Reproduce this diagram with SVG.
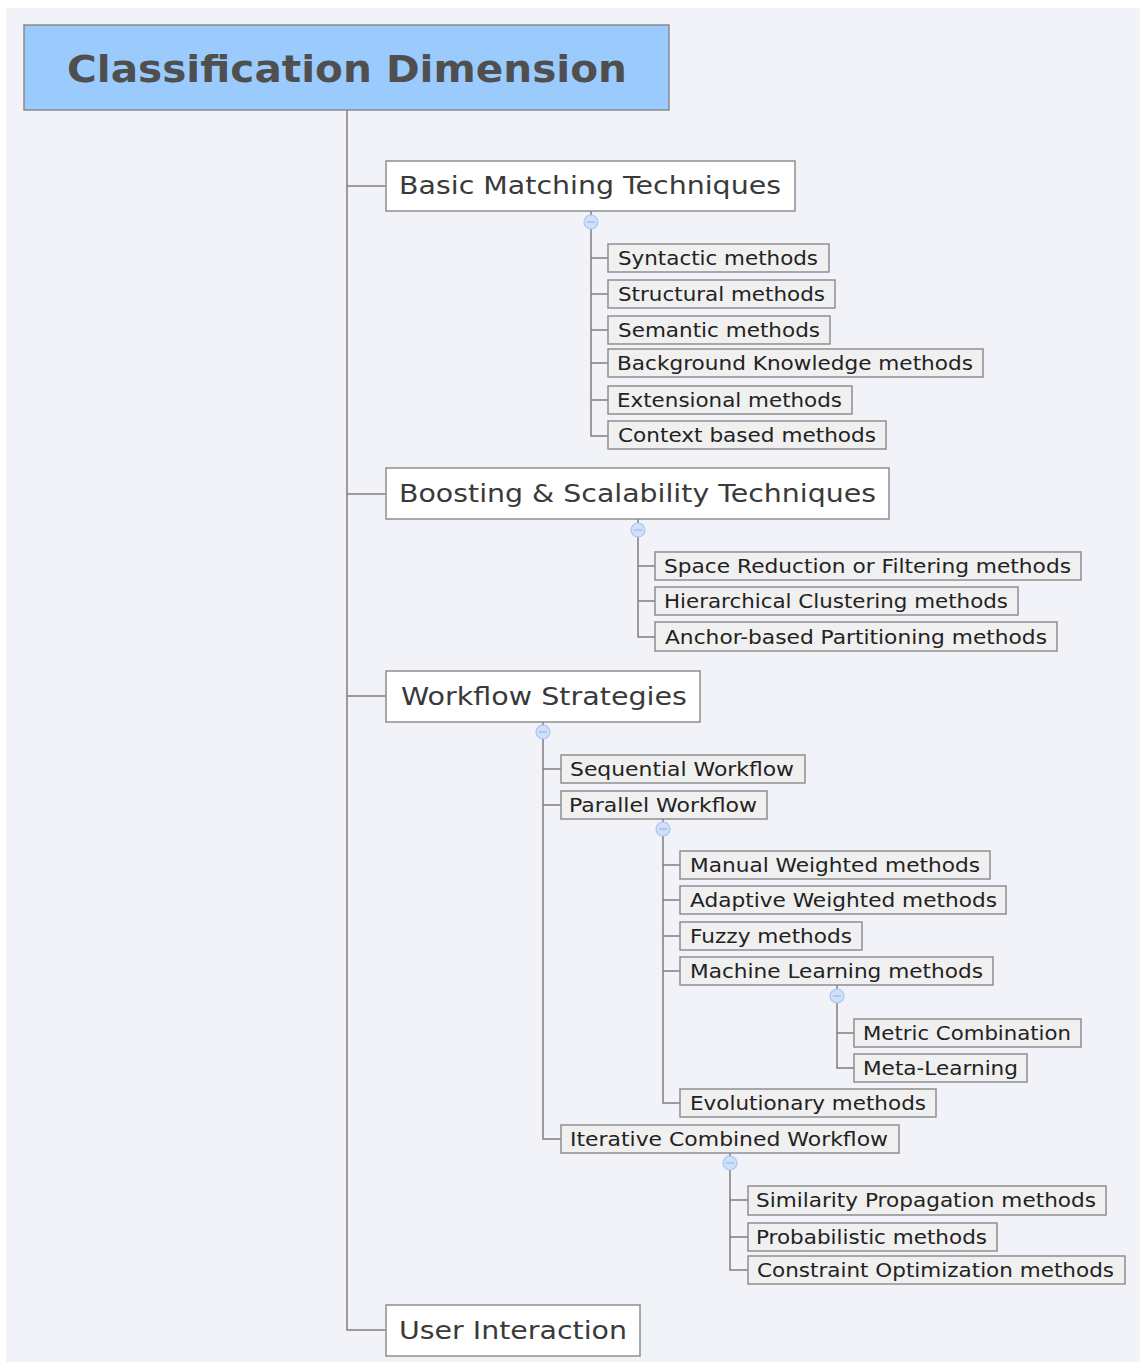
<svg xmlns="http://www.w3.org/2000/svg" width="1140" height="1362" viewBox="0 0 1140 1362">
<style>
.ln{fill:none;stroke:#7f7f7f;stroke-width:1.5}
.root{fill:#9bcafd;stroke:#8a8a8a;stroke-width:1.5}
.l1{fill:#ffffff;stroke:#8f8f8f;stroke-width:1.5}
.l2{fill:#f0f0f0;stroke:#8f8f8f;stroke-width:1.5}
.tr{font-family:"DejaVu Sans",Verdana,sans-serif;font-weight:bold;font-size:38px;fill:#4f4f4f}
.t1{font-family:"DejaVu Sans",Verdana,sans-serif;font-size:25px;fill:#3a3a3a}
.t2{font-family:"DejaVu Sans",Verdana,sans-serif;font-size:19px;fill:#222}
.cc{fill:#cfe0fb;stroke:#a9c5f2;stroke-width:1.2}
.cm{stroke:#9ab6e6;stroke-width:1.2}
</style>
<rect x="0" y="0" width="1140" height="1362" fill="#ffffff"/>
<rect x="6" y="8" width="1134" height="1354" fill="#f2f3f8"/>
<g id="connectors">
<path class="ln" d="M347 110 V1330 H386 M347 186 H386 M347 494 H386 M347 696 H386"/>
<path class="ln" d="M591 211 V436 H608 M591 258 H608 M591 294 H608 M591 330 H608 M591 363 H608 M591 400 H608"/>
<path class="ln" d="M638 519 V637 H655 M638 566 H655 M638 601 H655"/>
<path class="ln" d="M543 722 V1139 H561 M543 769 H561 M543 805 H561"/>
<path class="ln" d="M663 819 V1103 H680 M663 865 H680 M663 900 H680 M663 936 H680 M663 971 H680"/>
<path class="ln" d="M837 985 V1068 H854 M837 1033 H854"/>
<path class="ln" d="M730 1153 V1270 H748 M730 1200 H748 M730 1237 H748"/>
<g id="collapsers">
<circle class="cc" cx="591" cy="222" r="7"/><line class="cm" x1="587" y1="222" x2="595" y2="222"/>
<circle class="cc" cx="638" cy="530" r="7"/><line class="cm" x1="634" y1="530" x2="642" y2="530"/>
<circle class="cc" cx="543" cy="732" r="7"/><line class="cm" x1="539" y1="732" x2="547" y2="732"/>
<circle class="cc" cx="663" cy="829" r="7"/><line class="cm" x1="659" y1="829" x2="667" y2="829"/>
<circle class="cc" cx="837" cy="996" r="7"/><line class="cm" x1="833" y1="996" x2="841" y2="996"/>
<circle class="cc" cx="730" cy="1163" r="7"/><line class="cm" x1="726" y1="1163" x2="734" y2="1163"/>
</g>
</g>
<g id="root"><rect class="root" x="24" y="25" width="645" height="85"/><text class="tr" x="67" y="82" textLength="560" lengthAdjust="spacingAndGlyphs">Classification Dimension</text></g>
<g id="basic"><rect class="l1" x="386" y="161" width="409" height="50"/><text class="t1" x="399" y="194" textLength="382" lengthAdjust="spacingAndGlyphs">Basic Matching Techniques</text></g>
<g id="syntactic"><rect class="l2" x="608" y="244" width="221" height="28"/><text class="t2" x="618" y="265" textLength="200" lengthAdjust="spacingAndGlyphs">Syntactic methods</text></g>
<g id="structural"><rect class="l2" x="608" y="280" width="227" height="28"/><text class="t2" x="618" y="301" textLength="207" lengthAdjust="spacingAndGlyphs">Structural methods</text></g>
<g id="semantic"><rect class="l2" x="608" y="316" width="222" height="28"/><text class="t2" x="618" y="337" textLength="202" lengthAdjust="spacingAndGlyphs">Semantic methods</text></g>
<g id="background"><rect class="l2" x="608" y="349" width="375" height="28"/><text class="t2" x="617" y="370" textLength="356" lengthAdjust="spacingAndGlyphs">Background Knowledge methods</text></g>
<g id="extensional"><rect class="l2" x="608" y="386" width="244" height="28"/><text class="t2" x="617" y="407" textLength="225" lengthAdjust="spacingAndGlyphs">Extensional methods</text></g>
<g id="context"><rect class="l2" x="608" y="421" width="278" height="28"/><text class="t2" x="618" y="442" textLength="258" lengthAdjust="spacingAndGlyphs">Context based methods</text></g>
<g id="boosting"><rect class="l1" x="386" y="468" width="503" height="51"/><text class="t1" x="399" y="502" textLength="477" lengthAdjust="spacingAndGlyphs">Boosting &amp; Scalability Techniques</text></g>
<g id="space"><rect class="l2" x="655" y="552" width="426" height="28"/><text class="t2" x="664" y="573" textLength="407" lengthAdjust="spacingAndGlyphs">Space Reduction or Filtering methods</text></g>
<g id="hierarchical"><rect class="l2" x="655" y="587" width="363" height="28"/><text class="t2" x="664" y="608" textLength="344" lengthAdjust="spacingAndGlyphs">Hierarchical Clustering methods</text></g>
<g id="anchor"><rect class="l2" x="655" y="622" width="402" height="29"/><text class="t2" x="665" y="644" textLength="382" lengthAdjust="spacingAndGlyphs">Anchor-based Partitioning methods</text></g>
<g id="workflow"><rect class="l1" x="386" y="671" width="314" height="51"/><text class="t1" x="401" y="705" textLength="286" lengthAdjust="spacingAndGlyphs">Workflow Strategies</text></g>
<g id="sequential"><rect class="l2" x="561" y="755" width="244" height="28"/><text class="t2" x="570" y="776" textLength="224" lengthAdjust="spacingAndGlyphs">Sequential Workflow</text></g>
<g id="parallel"><rect class="l2" x="561" y="791" width="206" height="28"/><text class="t2" x="569" y="812" textLength="188" lengthAdjust="spacingAndGlyphs">Parallel Workflow</text></g>
<g id="manual"><rect class="l2" x="680" y="851" width="310" height="28"/><text class="t2" x="690" y="872" textLength="290" lengthAdjust="spacingAndGlyphs">Manual Weighted methods</text></g>
<g id="adaptive"><rect class="l2" x="680" y="886" width="326" height="28"/><text class="t2" x="690" y="907" textLength="307" lengthAdjust="spacingAndGlyphs">Adaptive Weighted methods</text></g>
<g id="fuzzy"><rect class="l2" x="680" y="922" width="182" height="28"/><text class="t2" x="690" y="943" textLength="162" lengthAdjust="spacingAndGlyphs">Fuzzy methods</text></g>
<g id="ml"><rect class="l2" x="680" y="957" width="313" height="28"/><text class="t2" x="690" y="978" textLength="293" lengthAdjust="spacingAndGlyphs">Machine Learning methods</text></g>
<g id="metric"><rect class="l2" x="854" y="1019" width="227" height="28"/><text class="t2" x="863" y="1040" textLength="208" lengthAdjust="spacingAndGlyphs">Metric Combination</text></g>
<g id="meta"><rect class="l2" x="854" y="1054" width="173" height="28"/><text class="t2" x="863" y="1075" textLength="155" lengthAdjust="spacingAndGlyphs">Meta-Learning</text></g>
<g id="evolutionary"><rect class="l2" x="680" y="1089" width="256" height="28"/><text class="t2" x="690" y="1110" textLength="236" lengthAdjust="spacingAndGlyphs">Evolutionary methods</text></g>
<g id="iterative"><rect class="l2" x="561" y="1125" width="338" height="28"/><text class="t2" x="570" y="1146" textLength="318" lengthAdjust="spacingAndGlyphs">Iterative Combined Workflow</text></g>
<g id="similarity"><rect class="l2" x="748" y="1186" width="358" height="29"/><text class="t2" x="756" y="1207" textLength="340" lengthAdjust="spacingAndGlyphs">Similarity Propagation methods</text></g>
<g id="probabilistic"><rect class="l2" x="748" y="1223" width="249" height="28"/><text class="t2" x="756" y="1244" textLength="231" lengthAdjust="spacingAndGlyphs">Probabilistic methods</text></g>
<g id="constraint"><rect class="l2" x="748" y="1256" width="377" height="28"/><text class="t2" x="757" y="1277" textLength="357" lengthAdjust="spacingAndGlyphs">Constraint Optimization methods</text></g>
<g id="user"><rect class="l1" x="386" y="1305" width="254" height="51"/><text class="t1" x="399" y="1339" textLength="228" lengthAdjust="spacingAndGlyphs">User Interaction</text></g>
</svg>
